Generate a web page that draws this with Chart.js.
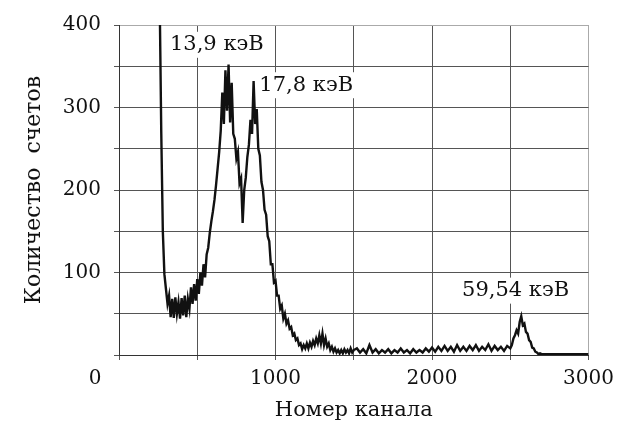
<!DOCTYPE html>
<html>
<head>
<meta charset="utf-8">
<script src="https://cdn.jsdelivr.net/npm/chart.js@4"></script>
<style>
    body { margin: 0; background: #fff; }
    #wrap { width: 621px; height: 424px; }
</style>
</head>
<body>
<div id="wrap"><canvas id="chart" width="621" height="424"></canvas></div>
<script>
// channel numbers (x) and counts (y)
const channels = [
    260, 270, 280, 290, 300, 310, 320, 330, 340, 350,
    360, 370, 380, 390, 400, 410, 420, 430, 440, 450,
    460, 470, 480, 490, 500, 510, 520, 530, 540, 550,
    560, 570, 580, 590, 600, 610, 620, 630, 640, 650,
    660, 670, 680, 690, 700, 710, 720, 730, 740, 750,
    760, 770, 780, 790, 800, 810, 820, 830, 840, 850,
    860, 870, 880, 890, 900, 910, 920, 930, 940, 950,
    960, 970, 980, 990, 1000, 1010, 1020, 1030, 1040, 1050,
    1060, 1070, 1080, 1090, 1100, 1110, 1120, 1130, 1140, 1150,
    1160, 1170, 1180, 1190, 1200, 1210, 1220, 1230, 1240, 1250,
    1260, 1270, 1280, 1290, 1300, 1310, 1320, 1330, 1340, 1350,
    1360, 1370, 1380, 1390, 1400, 1410, 1420, 1430, 1440, 1450,
    1460, 1470, 1480, 1490, 1500,
    1520, 1540, 1560, 1580, 1600, 1620, 1640, 1660, 1680, 1700,
    1720, 1740, 1760, 1780, 1800, 1820, 1840, 1860, 1880, 1900,
    1920, 1940, 1960, 1980, 2000, 2020, 2040, 2060, 2080, 2100,
    2120, 2140, 2160, 2180, 2200, 2220, 2240, 2260, 2280, 2300,
    2320, 2340, 2360, 2380, 2400, 2420, 2440, 2460, 2480,
    2500, 2510, 2520, 2530, 2540, 2550, 2560, 2570, 2580, 2590,
    2600, 2610, 2620, 2630, 2640, 2650, 2660, 2670, 2680, 2690, 2700,
    2720, 2740, 2760, 2780, 2800, 2820, 2840, 2860, 2880, 2900,
    2920, 2940, 2960, 2980, 3000
];

const counts = [
    430, 270, 150, 98, 80, 62, 72, 46, 68, 45,
    70, 50, 64, 44, 69, 48, 72, 46, 68, 56,
    82, 62, 86, 66, 92, 74, 100, 84, 110, 94,
    122, 130, 148, 162, 174, 188, 206, 226, 246, 272,
    318, 280, 345, 296, 352, 282, 330, 268, 262, 238,
    246, 208, 214, 160, 200, 215, 240, 255, 285, 268,
    332, 280, 298, 250, 242, 210, 200, 176, 170, 144,
    138, 110, 110, 88, 90, 72, 72, 56, 60, 44,
    50, 38, 42, 32, 34, 24, 26, 18, 20, 12,
    14, 7, 12, 8, 14, 8, 15, 10, 17, 12,
    20, 14, 24, 14, 26, 12, 20, 10, 14, 6,
    10, 4, 8, 3, 6, 2, 6, 2, 7, 3,
    6, 2, 8, 3, 6,
    8, 3, 7, 2, 12, 3, 7, 2, 6, 3,
    7, 2, 6, 3, 8, 3, 6, 2, 7, 3,
    6, 3, 8, 4, 9, 4, 10, 5, 11, 5,
    10, 4, 12, 5, 10, 5, 11, 6, 12, 5,
    10, 6, 13, 5, 11, 6, 10, 5, 11,
    8, 12, 20, 24, 30, 26, 40, 47, 36, 38,
    28, 26, 18, 16, 9, 8, 4, 3, 1, 2, 1,
    1, 1, 1, 1, 1, 1, 1, 1, 1, 1,
    1, 1, 1, 1, 1
];

// peak annotations
const peakLabels = ['13,9 кэВ', '17,8 кэВ', '59,54 кэВ'];
const peakLabelX = [625, 1196, 2534];
const peakLabelY = [376, 327, 78];

const xTickLabels = [1000, 2000, 3000];
const yTickLabels = [100, 200, 300, 400];

const serif = '"DejaVu Serif", "Liberation Serif", serif';

const peakLabelPlugin = {
    id: 'peakLabels',
    beforeDatasetsDraw(chart) {
        const { ctx, scales: { x, y } } = chart;
        ctx.save();
        ctx.font = '21px ' + serif;
        ctx.textAlign = 'center';
        ctx.textBaseline = 'middle';
        peakLabels.forEach((text, i) => {
            const px = x.getPixelForValue(peakLabelX[i]);
            const py = y.getPixelForValue(peakLabelY[i]);
            const w = ctx.measureText(text).width + 8;
            ctx.fillStyle = '#fff';
            ctx.fillRect(px - w / 2, py - 13, w, 26);
            ctx.fillStyle = '#111';
            ctx.fillText(text, px, py);
        });
        ctx.restore();
    },
    afterDraw(chart) {
        // the shared "0" sits below-left of the corner
        const { ctx, scales: { x } } = chart;
        ctx.save();
        ctx.font = '20px ' + serif;
        ctx.textAlign = 'center';
        ctx.textBaseline = 'middle';
        ctx.fillStyle = '#111';
        ctx.fillText('0', x.left - 24, x.top + 24);
        ctx.restore();
    }
};

function drawChart() {
    const ctx = document.getElementById('chart');
    new Chart(ctx, {
        type: 'line',
        data: {
            datasets: [{
                data: channels.map((c, i) => ({ x: c, y: counts[i] })),
                borderColor: '#111',
                borderWidth: 2.4,
                borderJoinStyle: 'miter',
                pointRadius: 0,
                tension: 0,
                fill: false
            }]
        },
        options: {
            responsive: false,
            animation: false,
            layout: {
                padding: { top: 23, right: 29, left: 0, bottom: 0 }
            },
            plugins: {
                legend: { display: false },
                tooltip: { enabled: false }
            },
            scales: {
                x: {
                    type: 'linear',
                    min: 0,
                    max: 3000,
                    afterFit: scale => { scale.height = 69; },
                    ticks: {
                        stepSize: 500,
                        autoSkip: false,
                        maxRotation: 0,
                        padding: 7,
                        color: '#111',
                        font: { family: serif, size: 20 },
                        callback: v => xTickLabels.includes(v) ? String(v) : ''
                    },
                    grid: {
                        color: c => c.tick && c.tick.value === 3000 ? '#aaa' : '#555',
                        tickColor: '#555',
                        tickLength: 5
                    },
                    border: { display: true, color: '#333', width: 1 },
                    title: {
                        display: true,
                        text: 'Номер канала',
                        color: '#111',
                        font: { family: serif, size: 21 },
                        padding: { top: 0, bottom: 1 }
                    }
                },
                y: {
                    min: 0,
                    max: 400,
                    afterFit: scale => { scale.width = 119; },
                    ticks: {
                        stepSize: 50,
                        autoSkip: false,
                        padding: 13,
                        color: '#111',
                        font: { family: serif, size: 20 },
                        callback: v => yTickLabels.includes(v) ? String(v) : ''
                    },
                    grid: {
                        color: c => c.tick && c.tick.value === 400 ? '#aaa' : '#555',
                        tickColor: '#555',
                        tickLength: 5
                    },
                    border: { display: true, color: '#333', width: 1 },
                    title: {
                        display: true,
                        text: 'Количество  счетов',
                        color: '#111',
                        font: { family: serif, size: 22 },
                        padding: { top: 21, bottom: 0 }
                    }
                }
            }
        },
        plugins: [peakLabelPlugin]
    });
}

drawChart();
</script>
</body>
</html>
